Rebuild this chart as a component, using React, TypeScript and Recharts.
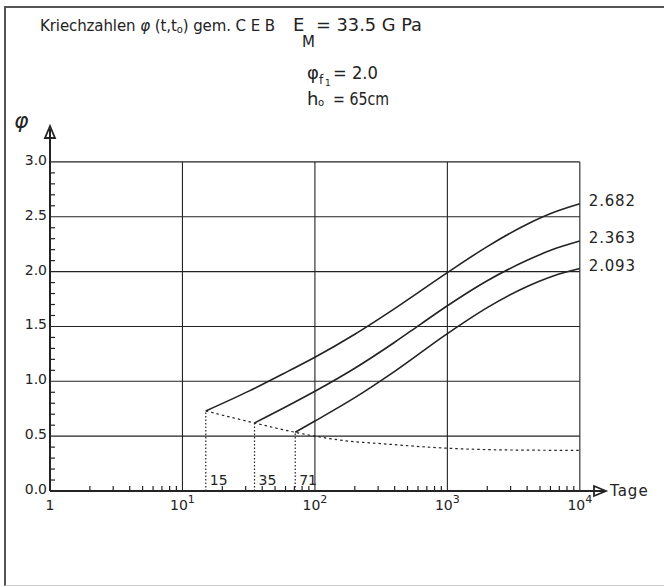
import React from 'react';
import { ComposedChart, Line, XAxis, YAxis, ReferenceLine, ReferenceDot, LabelList } from 'recharts';

const INK = '#232323';
const FONT = '"DejaVu Sans", "Liberation Sans", sans-serif';

// ---- axes ----
const xTicks = [
  1, 2, 3, 4, 5, 6, 7, 8, 9,
  10, 20, 30, 40, 50, 60, 70, 80, 90,
  100, 200, 300, 400, 500, 600, 700, 800, 900,
  1000, 2000, 3000, 4000, 5000, 6000, 7000, 8000, 9000,
  10000,
];
const xMajorTicks = [1, 10, 100, 1000, 10000];
const xMajorExponents = ['', '1', '2', '3', '4'];
const yTicks = [
  0, 0.1, 0.2, 0.3, 0.4, 0.5, 0.6, 0.7, 0.8, 0.9,
  1.0, 1.1, 1.2, 1.3, 1.4, 1.5, 1.6, 1.7, 1.8, 1.9,
  2.0, 2.1, 2.2, 2.3, 2.4, 2.5, 2.6, 2.7, 2.8, 2.9, 3.0,
];
const yMajorTicks = [0, 0.5, 1.0, 1.5, 2.0, 2.5, 3.0];
const yMajorLabels = ['0.0', '0.5', '1.0', '1.5', '2.0', '2.5', '3.0'];
const gridXValues = [10, 100, 1000, 10000];
const gridYValues = [0.5, 1.0, 1.5, 2.0, 2.5, 3.0];
const X_MIN = 1;
const X_MAX = 15488;
const Y_MIN = 0;
const Y_MAX = 3.3;
const GRID_X_END = 10000;
const GRID_Y_END = 3.0;

// ---- load ages t0 ----
const loadAges = [15, 35, 71];
const loadAgeLabels = ['15', '35', '71'];
const initialValues = [0.73, 0.62, 0.535];
const ageLabelLevel = 0.1;

// ---- creep curves phi(t, t0) ----
const curve15Days = [15, 32, 63, 100, 200, 400, 1000, 2000, 4000, 6300, 10000];
const curve15Phi = [0.73, 0.913, 1.093, 1.219, 1.429, 1.663, 1.991, 2.228, 2.432, 2.538, 2.618];
const curve35Days = [35, 63, 100, 200, 400, 630, 1000, 2000, 4000, 6300, 10000];
const curve35Phi = [0.62, 0.779, 0.909, 1.119, 1.356, 1.522, 1.689, 1.917, 2.103, 2.203, 2.279];
const curve71Days = [71, 100, 200, 400, 1000, 2000, 4000, 6300, 10000];
const curve71Phi = [0.535, 0.638, 0.851, 1.091, 1.435, 1.672, 1.864, 1.96, 2.028];
const endLabels = ['2.682', '2.363', '2.093'];

// ---- curve through the initial values ----
const initDays = [15, 35, 71, 100, 164, 330, 1000, 2560, 10000];
const initPhi = [0.73, 0.62, 0.535, 0.5, 0.46, 0.43, 0.39, 0.375, 0.37];

const toSeries = (days: number[], phi: number[], tag?: string) =>
  days.map((t, i) => ({ t, v: phi[i], tag: tag && i === days.length - 1 ? tag : null }));

const curve15 = toSeries(curve15Days, curve15Phi, endLabels[0]);
const curve35 = toSeries(curve35Days, curve35Phi, endLabels[1]);
const curve71 = toSeries(curve71Days, curve71Phi, endLabels[2]);
const initCurve = toSeries(initDays, initPhi);

const XTick = (props: any) => {
  const { x, y, payload } = props;
  const i = xMajorTicks.indexOf(payload.value);
  if (i < 0) {
    return <line x1={x} x2={x} y1={y} y2={y - 5} stroke={INK} strokeWidth={1.2} />;
  }
  if (i === 0) {
    return (
      <text x={x} y={y + 19} textAnchor="middle" fontSize={14} fontFamily={FONT} fill={INK}>
        1
      </text>
    );
  }
  return (
    <text x={x} y={y + 19} textAnchor="middle" fontSize={14} fontFamily={FONT} fill={INK}>
      10
      <tspan dy={-7} fontSize={11}>
        {xMajorExponents[i]}
      </tspan>
    </text>
  );
};

const YTick = (props: any) => {
  const { x, y, payload } = props;
  const i = yMajorTicks.findIndex((m) => Math.abs(m - payload.value) < 1e-6);
  if (i < 0) {
    return <line x1={x} x2={x + 5} y1={y} y2={y} stroke={INK} strokeWidth={1.2} />;
  }
  return (
    <text x={x - 3} y={y + 3} textAnchor="end" fontSize={14} fontFamily={FONT} fill={INK}>
      {yMajorLabels[i]}
    </text>
  );
};

const EndLabel = (props: any) => {
  const { x, y, value } = props;
  if (!value) return null;
  return (
    <text x={x + 9} y={y + 2} fontSize={15} fontFamily={FONT} fill={INK} letterSpacing={0.8}>
      {value}
    </text>
  );
};

const UpArrow = (p: any) => (
  <polygon
    points={`${p.cx},${p.cy - 3} ${p.cx - 5},${p.cy + 9} ${p.cx + 5},${p.cy + 9}`}
    fill="none"
    stroke={INK}
    strokeWidth={1.8}
  />
);
const RightArrow = (p: any) => (
  <polygon
    points={`${p.cx + 1},${p.cy} ${p.cx - 11},${p.cy - 5} ${p.cx - 11},${p.cy + 5}`}
    fill="none"
    stroke={INK}
    strokeWidth={1.8}
  />
);

export default function App() {
  return (
    <div
      style={{
        position: 'absolute',
        left: 0,
        top: 0,
        width: 664,
        height: 587,
        background: '#fff',
        overflow: 'hidden',
      }}
    >
      <div
        style={{
          position: 'absolute',
          left: 4,
          top: 6,
          width: 664,
          height: 580,
          borderLeft: '2px solid #555',
          borderTop: '2px solid #555',
          borderBottom: '1px solid #ccc',
          boxSizing: 'border-box',
        }}
      />
      <div style={{ position: 'absolute', left: 0, top: 0 }}>
        <ComposedChart width={664} height={587} margin={{ top: 129, right: 59, bottom: 66, left: 10 }}>
          <XAxis
            dataKey="t"
            type="number"
            scale="log"
            domain={[X_MIN, X_MAX]}
            allowDataOverflow
            ticks={xTicks}
            interval={0}
            tick={XTick}
            tickLine={false}
            tickSize={0}
            tickMargin={0}
            height={30}
            axisLine={{ stroke: INK, strokeWidth: 2 }}
          />
          <YAxis
            type="number"
            domain={[Y_MIN, Y_MAX]}
            allowDataOverflow
            ticks={yTicks}
            interval={0}
            tick={YTick}
            tickLine={false}
            tickSize={0}
            tickMargin={0}
            width={40}
            axisLine={{ stroke: INK, strokeWidth: 2 }}
          />
          {gridYValues.map((g) => (
            <ReferenceLine
              key={'gy' + g}
              segment={[
                { x: X_MIN, y: g },
                { x: GRID_X_END, y: g },
              ]}
              stroke={INK}
              strokeWidth={1.1}
              ifOverflow="visible"
            />
          ))}
          {gridXValues.map((g) => (
            <ReferenceLine
              key={'gx' + g}
              segment={[
                { x: g, y: Y_MIN },
                { x: g, y: GRID_Y_END },
              ]}
              stroke={INK}
              strokeWidth={1.1}
              ifOverflow="visible"
            />
          ))}
          {loadAges.map((a, i) => (
            <ReferenceLine
              key={'age' + a}
              segment={[
                { x: a, y: Y_MIN },
                { x: a, y: initialValues[i] },
              ]}
              stroke={INK}
              strokeWidth={1.2}
              strokeDasharray="1.5 2"
              ifOverflow="visible"
            />
          ))}
          {loadAges.map((a, i) => (
            <ReferenceDot
              key={'agelbl' + a}
              x={a}
              y={ageLabelLevel}
              ifOverflow="visible"
              shape={(p: any) => (
                <text x={p.cx + 4} y={p.cy + 5} fontSize={14} fontFamily={FONT} fill={INK}>
                  {loadAgeLabels[i]}
                </text>
              )}
            />
          ))}
          <Line
            data={initCurve}
            dataKey="v"
            type="monotone"
            stroke={INK}
            strokeWidth={1.2}
            strokeDasharray="2.5 3"
            dot={false}
            isAnimationActive={false}
          />
          <Line
            data={curve15}
            dataKey="v"
            type="monotone"
            stroke={INK}
            strokeWidth={1.6}
            dot={false}
            isAnimationActive={false}
          >
            <LabelList dataKey="tag" content={EndLabel} />
          </Line>
          <Line
            data={curve35}
            dataKey="v"
            type="monotone"
            stroke={INK}
            strokeWidth={1.6}
            dot={false}
            isAnimationActive={false}
          >
            <LabelList dataKey="tag" content={EndLabel} />
          </Line>
          <Line
            data={curve71}
            dataKey="v"
            type="monotone"
            stroke={INK}
            strokeWidth={1.6}
            dot={false}
            isAnimationActive={false}
          >
            <LabelList dataKey="tag" content={EndLabel} />
          </Line>
          <ReferenceDot x={X_MIN} y={Y_MAX} ifOverflow="visible" shape={UpArrow} />
          <ReferenceDot x={X_MAX} y={Y_MIN} ifOverflow="visible" shape={RightArrow} />
        </ComposedChart>
      </div>
      <svg
        width={664}
        height={587}
        style={{ position: 'absolute', left: 0, top: 0, pointerEvents: 'none' }}
        fontFamily={FONT}
        fill={INK}
      >
        <text x={40} y={31} fontSize={15} textLength={235} lengthAdjust="spacing">
          Kriechzahlen <tspan fontStyle="italic">φ</tspan> (t,t<tspan fontSize={10} dy={2}>o</tspan>
          <tspan dy={-2}>) gem.  C E B</tspan>
        </text>
        <text x={293} y={31} fontSize={18}>
          E
        </text>
        <text x={302} y={47} fontSize={15}>
          M
        </text>
        <text x={316} y={31} fontSize={18} textLength={106} lengthAdjust="spacingAndGlyphs">
          = 33.5 G Pa
        </text>
        <text x={307} y={79} fontSize={18}>
          φ
        </text>
        <text x={319} y={84} fontSize={12}>
          f
        </text>
        <text x={325} y={86} fontSize={9}>
          1
        </text>
        <text x={333} y={79} fontSize={18} textLength={45} lengthAdjust="spacingAndGlyphs">
          = 2.0
        </text>
        <text x={307} y={105} fontSize={18}>
          h
        </text>
        <text x={318} y={106} fontSize={10}>
          o
        </text>
        <text x={333} y={105} fontSize={18} textLength={56} lengthAdjust="spacingAndGlyphs">
          = 65cm
        </text>
        <text x={14} y={128} fontSize={22} fontStyle="italic">
          φ
        </text>
        <text x={610} y={496} fontSize={15} letterSpacing={1}>
          Tage
        </text>
      </svg>
    </div>
  );
}
